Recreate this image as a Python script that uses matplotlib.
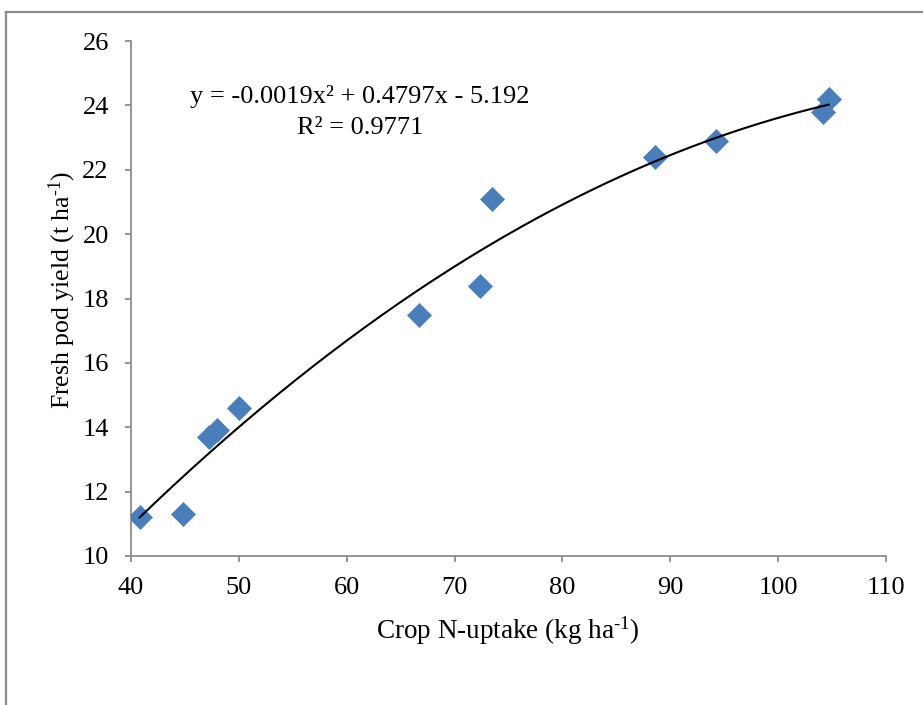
import numpy as np
import matplotlib
matplotlib.use("Agg")
import matplotlib.pyplot as plt
from matplotlib.lines import Line2D

# Data
n_uptake = [40.8, 44.8, 47.2, 48.0, 50.0, 66.7, 72.4, 73.5, 88.6, 94.2, 104.2, 104.7]
pod_yield = [11.2, 11.3, 13.7, 13.9, 14.6, 17.5, 18.4, 21.1, 22.4, 22.9, 23.8, 24.2]
x_ticks = [40, 50, 60, 70, 80, 90, 100, 110]
y_ticks = [10, 12, 14, 16, 18, 20, 22, 24, 26]
eq_text = "y = -0.0019x² + 0.4797x - 5.192"
r2_text = "R² = 0.9771"

plt.rcParams['font.family'] = ['Liberation Serif', 'DejaVu Serif']
plt.rcParams['mathtext.fontset'] = 'custom'
plt.rcParams['mathtext.rm'] = 'Liberation Serif'
plt.rcParams['mathtext.it'] = 'Liberation Serif:italic'

fig = plt.figure(figsize=(9.23, 7.05), dpi=100)
ax = fig.add_axes([131/923, 1-556/705, (886-131)/923, (556-41)/705])

# outer frame (top and left only visible)
fig.add_artist(Line2D([6/923, 1], [1-12/705, 1-12/705], color='#8c8c8c', lw=1.6, transform=fig.transFigure))
fig.add_artist(Line2D([6/923, 6/923], [0, 1-12/705], color='#8c8c8c', lw=1.6, transform=fig.transFigure))

ax.scatter(n_uptake, pod_yield, marker='D', s=150, color='#4a7ebb', edgecolors='#4a7ebb', linewidths=0.5, zorder=3)

coef = np.polyfit(n_uptake, pod_yield, 2)
xs = np.linspace(min(n_uptake), max(n_uptake), 200)
ax.plot(xs, np.polyval(coef, xs), color='black', lw=1.5, zorder=4)

ax.set_xlim(40, 110)
ax.set_ylim(10, 26)
ax.set_xticks(x_ticks)
ax.set_yticks(y_ticks)
ax.tick_params(axis='both', direction='out', length=4, width=1.3, color='#8c8c8c', labelsize=19)
ax.tick_params(axis='x', pad=11)
ax.tick_params(axis='y', pad=12)
for s in ['top', 'right']:
    ax.spines[s].set_visible(False)
for s in ['left', 'bottom']:
    ax.spines[s].set_color('#8c8c8c')
    ax.spines[s].set_linewidth(1.3)

fig.text(508/923, 1-631/705, r"Crop N-uptake (kg ha$^{\text{-}1}$)", fontsize=19.5, ha='center', va='center')
fig.text(62/923, 1-290/705, r"Fresh pod yield (t ha$^{\text{-}1}$)", fontsize=18.5, ha='center', va='center', rotation=90)

fig.text(360/923, 1-97/705, eq_text, fontsize=19, ha='center', va='center')
fig.text(360/923, 1-128/705, r2_text, fontsize=19, ha='center', va='center')

fig.savefig("out.png", dpi=100)
